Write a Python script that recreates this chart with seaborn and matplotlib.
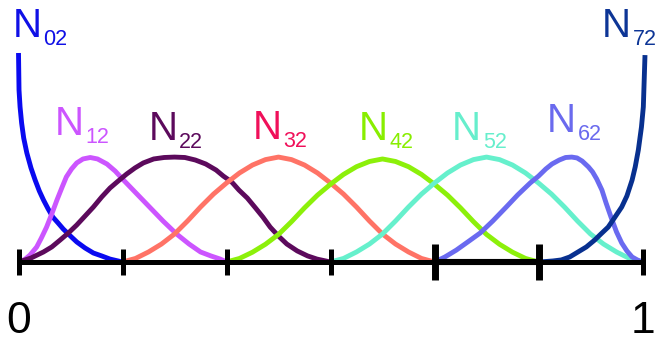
import matplotlib
matplotlib.use("Agg")
import matplotlib.pyplot as plt
import pandas as pd
import seaborn as sns

# Uniform knot spans on the parameter axis, end labels 0 and 1
knots = [0, 1, 2, 3, 4, 5, 6]
heavy_knots = [4, 5]
end_labels = ["0", "1"]

# Quadratic basis functions N_i2: parameter (in knot spans) and height (N02 at 0 = 1)
n02_u = [0.0, 0.005, 0.015, 0.03, 0.05, 0.08, 0.12, 0.16, 0.2, 0.24, 0.285, 0.33,
         0.38, 0.43, 0.5, 0.56, 0.64, 0.72, 0.8, 0.88, 0.94, 1.0]
n02_v = [1.0, 0.823, 0.742, 0.665, 0.593, 0.522, 0.450, 0.392, 0.340, 0.297, 0.254, 0.215,
         0.187, 0.158, 0.124, 0.096, 0.067, 0.043, 0.029, 0.014, 0.007, 0.0]

n12_u = [0.0, 0.06, 0.11, 0.175, 0.22, 0.27, 0.32, 0.37, 0.42, 0.46, 0.51, 0.56, 0.62, 0.69,
         0.76, 0.85, 0.93, 1.0, 1.13, 1.26, 1.39, 1.52, 1.64, 1.75, 1.85, 1.94, 2.0]
n12_v = [0.0, 0.012, 0.033, 0.072, 0.115, 0.167, 0.230, 0.297, 0.359, 0.407, 0.445, 0.474, 0.493, 0.500,
         0.493, 0.469, 0.435, 0.397, 0.330, 0.263, 0.196, 0.134, 0.086, 0.048, 0.029, 0.014, 0.0]

n22_u = [0.0, 0.12, 0.24, 0.32, 0.4, 0.48, 0.56, 0.64, 0.72, 0.8, 0.88, 0.96, 1.04, 1.12, 1.2, 1.3,
         1.4, 1.5, 1.6, 1.7, 1.8, 1.9, 1.97, 2.05, 2.12, 2.2, 2.28, 2.35, 2.42, 2.5, 2.58, 2.68,
         2.78, 2.87, 3.0]
n22_v = [0.0, 0.019, 0.048, 0.072, 0.105, 0.139, 0.177, 0.220, 0.263, 0.311, 0.354, 0.388, 0.421,
         0.450, 0.474, 0.493, 0.500, 0.502, 0.500, 0.488, 0.469, 0.440, 0.411, 0.383, 0.344, 0.306,
         0.258, 0.215, 0.167, 0.124, 0.086, 0.053, 0.029, 0.014, 0.0]

n32_u = [1.0, 1.125, 1.25, 1.375, 1.5, 1.625, 1.75, 1.875, 2.0, 2.125, 2.25, 2.375, 2.5,
         2.625, 2.75, 2.875, 3.0, 3.125, 3.25, 3.375, 3.5, 3.625, 3.75, 3.875, 4.0]
n32_v = [0.0, 0.017, 0.048, 0.086, 0.134, 0.196, 0.263, 0.325, 0.378, 0.426, 0.464, 0.490, 0.502,
         0.490, 0.464, 0.426, 0.378, 0.325, 0.263, 0.196, 0.134, 0.086, 0.048, 0.017, 0.0]

n42_u = [2.0, 2.125, 2.25, 2.375, 2.5, 2.625, 2.75, 2.875, 3.0, 3.125, 3.25, 3.375, 3.5,
         3.625, 3.75, 3.875, 4.0, 4.125, 4.25, 4.375, 4.5, 4.625, 4.75, 4.875, 5.0]
n42_v = [0.0, 0.017, 0.047, 0.085, 0.132, 0.193, 0.259, 0.320, 0.372, 0.419, 0.456, 0.481, 0.493,
         0.481, 0.456, 0.419, 0.372, 0.320, 0.259, 0.193, 0.132, 0.085, 0.047, 0.017, 0.0]

n52_u = [3.0, 3.125, 3.25, 3.375, 3.5, 3.625, 3.75, 3.875, 4.0, 4.125, 4.25, 4.375, 4.5,
         4.625, 4.75, 4.875, 5.0, 5.125, 5.25, 5.375, 5.5, 5.625, 5.75, 5.875, 6.0]
n52_v = [0.0, 0.017, 0.048, 0.086, 0.134, 0.196, 0.263, 0.325, 0.378, 0.426, 0.464, 0.490, 0.502,
         0.490, 0.464, 0.426, 0.378, 0.325, 0.263, 0.196, 0.134, 0.086, 0.048, 0.017, 0.0]

n62_u = [4.0, 4.1, 4.21, 4.32, 4.44, 4.56, 4.69, 4.8, 4.92, 5.0, 5.07, 5.13, 5.2, 5.26, 5.32,
         5.37, 5.42, 5.48, 5.52, 5.56, 5.61, 5.65, 5.7, 5.75, 5.8, 5.85, 5.9, 5.95, 6.0]
n62_v = [0.0, 0.024, 0.057, 0.096, 0.139, 0.196, 0.263, 0.321, 0.378, 0.411, 0.445, 0.469, 0.488,
         0.500, 0.502, 0.498, 0.483, 0.455, 0.431, 0.397, 0.344, 0.282, 0.211, 0.144, 0.091,
         0.053, 0.024, 0.010, 0.0]

n72_u = [5.0, 5.06, 5.14, 5.22, 5.3, 5.38, 5.46, 5.54, 5.6, 5.67, 5.73, 5.8, 5.85, 5.9, 5.93,
         5.96, 5.99, 6.008, 6.024]
n72_v = [0.0, 0.002, 0.005, 0.010, 0.024, 0.048, 0.072, 0.105, 0.134, 0.167, 0.211, 0.263, 0.316,
         0.392, 0.455, 0.536, 0.646, 0.742, 0.990]

curve_names = ["N02", "N12", "N22", "N32", "N42", "N52", "N62", "N72"]
curve_u = [n02_u, n12_u, n22_u, n32_u, n42_u, n52_u, n62_u, n72_u]
curve_v = [n02_v, n12_v, n22_v, n32_v, n42_v, n52_v, n62_v, n72_v]
curve_colors = ["#0a0af0", "#cc55ff", "#5c0a5c", "#ff7366", "#8cf00a",
                "#66f0cc", "#6a6af0", "#08308f"]

# Labels: main letter, subscript, anchor (parameter, height), colour
label_main = ["N"] * 8
label_sub = ["02", "12", "22", "32", "42", "52", "62", "72"]
label_u = [-0.06, 0.35, 1.25, 2.25, 3.27, 4.17, 5.08, 5.61]
label_v = [1.077, 0.608, 0.584, 0.589, 0.584, 0.584, 0.622, 1.077]
label_colors = ["#1010e6", "#cc55ff", "#5c0a5c", "#f0105a", "#88ee00",
                "#66eecc", "#6a6aee", "#0d3596"]

sns.set_style("white")
plt.rcParams["font.family"] = ["Liberation Sans", "DejaVu Sans"]

fig = plt.figure(figsize=(6.56, 3.41), dpi=100)
ax = fig.add_axes([0, 0, 1, 1])

frames = [pd.DataFrame({"u": us, "N": vs, "basis": name})
          for name, us, vs in zip(curve_names, curve_u, curve_v)]
df = pd.concat(frames, ignore_index=True)

sns.lineplot(data=df, x="u", y="N", hue="basis", hue_order=curve_names,
             palette=dict(zip(curve_names, curve_colors)),
             estimator=None, sort=False, legend=False, linewidth=3.5,
             solid_capstyle="butt", solid_joinstyle="round", ax=ax)

# Parameter axis with knot ticks
ax.hlines(0, knots[0], knots[-1], color="black", lw=3.6, zorder=5)
ax.hlines(0, heavy_knots[0], heavy_knots[-1], color="black", lw=4.4, zorder=5)
for k in knots:
    heavy = k in heavy_knots
    half = 0.088 if heavy else 0.064
    ax.vlines(k, -half, half, color="black", lw=5.0 if heavy else 3.6, zorder=6)

ax.text(knots[0], -0.34, end_labels[0], fontsize=32, ha="center", va="baseline", color="black")
ax.text(knots[-1], -0.34, end_labels[1], fontsize=32, ha="center", va="baseline", color="black")

for m, s, u, v, c in zip(label_main, label_sub, label_u, label_v, label_colors):
    ax.text(u, v, m, fontsize=29, color=c, ha="left", va="baseline")
    ax.annotate(s, xy=(u, v), xytext=(22, -5.8), textcoords="offset points",
                fontsize=15.5, color=c, ha="left", va="baseline")

ax.set_xlim(-18.5 / 104, (656 - 18.5) / 104)
ax.set_ylim(-79 / 209, 262 / 209)
ax.axis("off")

fig.savefig("out.png", dpi=100)
